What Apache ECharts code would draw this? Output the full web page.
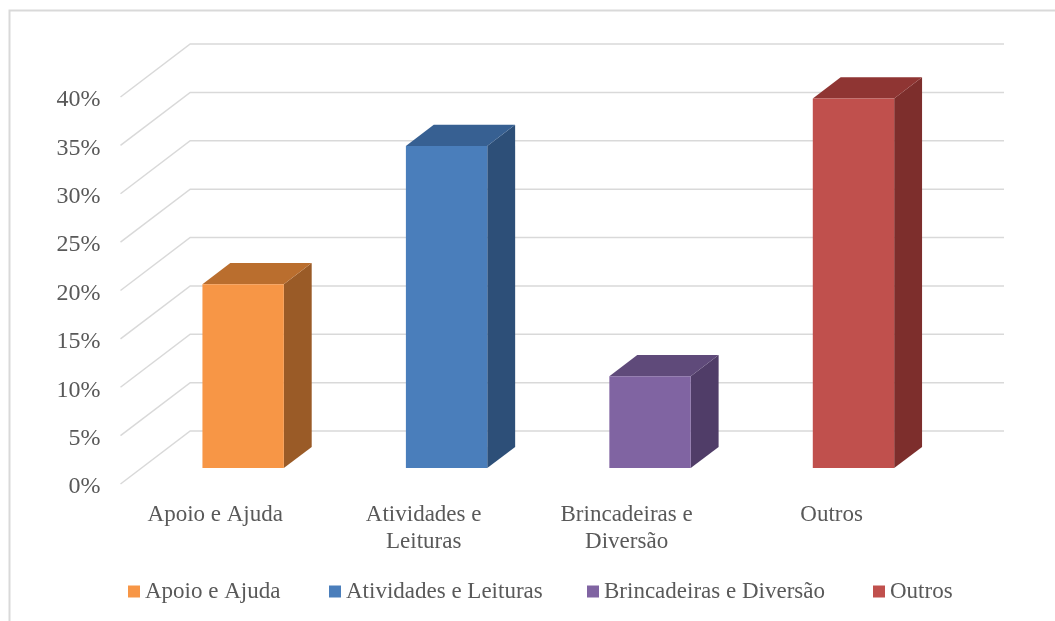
<!DOCTYPE html>
<html><head><meta charset="utf-8">
<style>html,body{margin:0;padding:0;background:#fff}#c{width:1055px;height:621px}</style>
<script src="https://cdn.jsdelivr.net/npm/echarts@6/dist/echarts.min.js"></script>
</head><body><div id="c"></div>
<script>
const categories = ['Apoio e Ajuda', 'Atividades e Leituras', 'Brincadeiras e Diversão', 'Outros'];
const tickLabels = ['Apoio e Ajuda', 'Atividades e\nLeituras', 'Brincadeiras e\nDiversão', 'Outros'];
const values = [19, 33.3, 9.5, 38.2];
const gridTicks = [0, 5, 10, 15, 20, 25, 30, 35, 40];
const frontColors = ['#F79646', '#4A7EBB', '#8064A2', '#C0504D'];
const sideColors = ['#9A5B27', '#2D4F78', '#503D68', '#7D2E2C'];
const topColors = ['#BA6E2E', '#376092', '#5F4A7A', '#8F3533'];
const legendLefts = [128, 329, 587, 873];
const labelStyleNames = ['a', 'b', 'c', 'd'];
const labelShifts = [14, 4, 5, 2];

const FONT = '"Liberation Serif", serif';
const TXT = '#595959';
const DX = 69.7, DY = -53;     // full floor depth offset on screen
const bandShare = 0.4;         // bar width as share of a category band
const depthFrom = 0.3, depthTo = 0.7;

function renderBar(i) {
  return function (params, api) {
    const band = api.size([1, 0])[0];
    const w = band * bandShare;
    const base = api.coord([api.value(0), 0]);
    const top = api.coord([api.value(0), api.value(1)]);
    const fx = base[0] + DX * depthFrom - w / 2;
    const fy0 = base[1] + DY * depthFrom;
    const fy1 = top[1] + DY * depthFrom;
    const ox = DX * (depthTo - depthFrom), oy = DY * (depthTo - depthFrom);
    return {
      type: 'group',
      children: [
        { type: 'polygon', shape: { points: [[fx + w, fy0], [fx + w + ox, fy0 + oy], [fx + w + ox, fy1 + oy], [fx + w, fy1]] }, style: { fill: sideColors[i] } },
        { type: 'polygon', shape: { points: [[fx, fy1], [fx + ox, fy1 + oy], [fx + w + ox, fy1 + oy], [fx + w, fy1]] }, style: { fill: topColors[i] } },
        { type: 'rect', shape: { x: fx, y: fy1, width: w, height: fy0 - fy1 }, style: { fill: frontColors[i] } }
      ]
    };
  };
}

function renderGrid(params, api) {
  const band = api.size([1, 0])[0];
  const p = api.coord([0, api.value(0)]);
  const left = p[0] - band / 2;
  const right = left + band * categories.length + DX;
  return {
    type: 'polyline',
    shape: { points: [[left, p[1]], [left + DX, p[1] + DY], [right, p[1] + DY]] },
    style: { stroke: '#D9D9D9', lineWidth: 1.5, fill: null }
  };
}

const series = [{
  name: 'grid', type: 'custom', silent: true, z: 1, clip: false,
  data: gridTicks.map(v => [v]), encode: { y: 0 }, renderItem: renderGrid
}];
categories.forEach((name, i) => series.push({
  name, type: 'custom', z: 2 + i, clip: false,
  itemStyle: { color: frontColors[i] },
  data: [[i, values[i]]], encode: { x: 0, y: 1 }, renderItem: renderBar(i)
}));

const rich = {};
labelStyleNames.forEach((k, i) => {
  rich[k] = { fontFamily: FONT, fontSize: 23, lineHeight: 27, color: TXT, padding: [0, labelShifts[i], 0, 0] };
});

const chart = echarts.init(document.getElementById('c'), null, { renderer: 'canvas' });
chart.setOption({
  animation: false,
  backgroundColor: '#fff',
  graphic: [{
    type: 'polyline', silent: true,
    shape: { points: [[9.5, 621], [9.5, 10.5], [1055, 10.5]] },
    style: { stroke: '#D9D9D9', lineWidth: 2, fill: null }
  }],
  grid: { left: 120.5, top: 97, width: 813.8, height: 387 },
  legend: categories.map((name, i) => ({
    data: [{ name, icon: 'rect' }], left: legendLefts[i], top: 580,
    itemWidth: 12, itemHeight: 12, itemGap: 0, padding: 0,
    textStyle: { fontFamily: FONT, fontSize: 23, color: TXT }
  })),
  xAxis: {
    type: 'category', data: tickLabels,
    axisLine: { show: false }, axisTick: { show: false }, splitLine: { show: false },
    axisLabel: {
      interval: 0, margin: 17, fontFamily: FONT, fontSize: 23, lineHeight: 27, color: TXT,
      formatter: (v, i) => v.split('\n').map(s => `{${labelStyleNames[i]}|${s}}`).join('\n'),
      rich
    }
  },
  yAxis: {
    type: 'value', min: 0, max: 40, interval: 5,
    axisLine: { show: false }, axisTick: { show: false }, splitLine: { show: false },
    axisLabel: { margin: 20, fontFamily: FONT, fontSize: 24, color: TXT, verticalAlign: 'top', lineHeight: 6, formatter: '{value}%' }
  },
  series
});
</script></body></html>
